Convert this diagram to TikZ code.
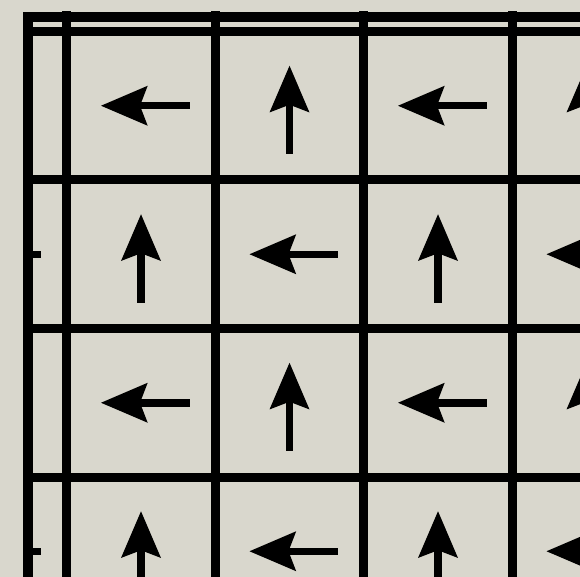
\documentclass[tikz,border=0pt]{standalone}
\definecolor{bg}{RGB}{217,215,205}
\tikzset{
  uparr/.pic={
    \fill[black] (0,-40) -- (20,6.7) -- (0,-1) -- (-20,6.7) -- cycle;
    \fill[black] (-3.75,-2) rectangle (3.75,48.5);
  },
  gridline/.style={line width=9pt, black},
  frameline/.style={line width=10pt, black, line join=miter}
}
\begin{document}
\begin{tikzpicture}[x=1pt,y=-1pt]
\useasboundingbox (0,0) rectangle (580,577);
\fill[bg] (0,0) rectangle (580,577);
\begin{scope}
  \clip (23,12) rectangle (590,590);
  \foreach \i in {0,...,4}{
    \draw[gridline] ({66.5+148.5*\i},0) -- ++(0,620);
    \draw[gridline] (0,{31.5+148.5*\i}) -- ++(620,0);
  }
  \foreach \c in {0,...,4}{
    \foreach \r in {0,...,4}{
      \pgfmathsetmacro\cx{141+148.5*(\c-1)}
      \pgfmathsetmacro\cy{105.75+148.5*(\r-1)}
      \pgfmathtruncatemacro\parity{mod(\c+\r,2)}
      \ifnum\parity=0
        \pic[rotate=90] at (\cx,\cy) {uparr};
      \else
        \pic at (\cx,\cy) {uparr};
      \fi
    }
  }
\end{scope}
\draw[frameline] (28,620) -- (28,17) -- (620,17);
\end{tikzpicture}
\end{document}
